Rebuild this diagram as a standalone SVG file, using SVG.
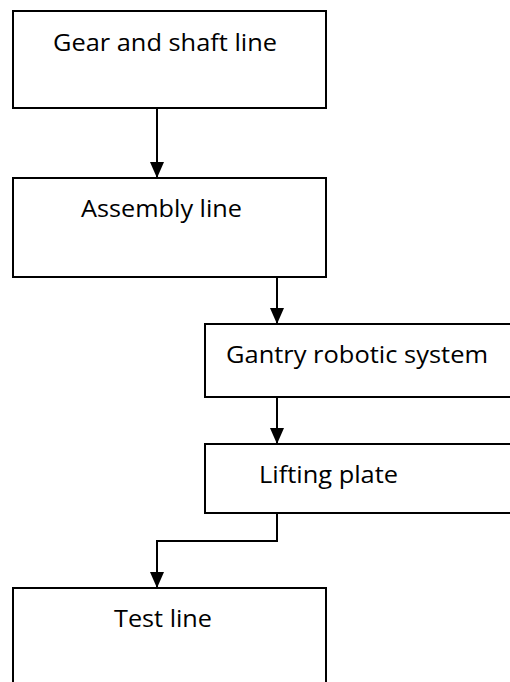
<svg xmlns="http://www.w3.org/2000/svg" width="510" height="682" viewBox="0 0 510 682">
<defs>
<style>
.box{fill:#fff;stroke:#000;stroke-width:2}
.lbl{font-family:"Open Sans","Noto Sans","Liberation Sans",sans-serif;font-size:24px;fill:#000}
.con{fill:none;stroke:#000;stroke-width:2}
</style>
<marker id="arr" markerWidth="16" markerHeight="14" refX="16" refY="7" orient="auto" markerUnits="userSpaceOnUse" viewBox="0 0 16 14">
<path d="M0,0 L16,7 L0,14 Z" fill="#000"/>
</marker>
</defs>
<rect width="510" height="682" fill="#fff"/>
<g id="n1">
<rect class="box" x="13" y="11" width="313" height="97"/>
<text class="lbl" x="53" y="51" textLength="224" lengthAdjust="spacingAndGlyphs">Gear and shaft line</text>
</g>
<g id="n2">
<rect class="box" x="13" y="178" width="313" height="99"/>
<text class="lbl" x="81" y="217" textLength="161" lengthAdjust="spacingAndGlyphs">Assembly line</text>
</g>
<g id="n3">
<rect class="box" x="205" y="324" width="320" height="73"/>
<text class="lbl" x="226" y="363" textLength="262" lengthAdjust="spacingAndGlyphs">Gantry robotic system</text>
</g>
<g id="n4">
<rect class="box" x="205" y="444" width="320" height="69"/>
<text class="lbl" x="259" y="483" textLength="139" lengthAdjust="spacingAndGlyphs">Lifting plate</text>
</g>
<g id="n5">
<rect class="box" x="13" y="588" width="313" height="110"/>
<text class="lbl" x="114" y="627" textLength="98" lengthAdjust="spacingAndGlyphs">Test line</text>
</g>
<g id="connectors">
<path class="con" d="M157,108 V178" marker-end="url(#arr)"/>
<path class="con" d="M277,277 V324" marker-end="url(#arr)"/>
<path class="con" d="M277,397 V444" marker-end="url(#arr)"/>
<path class="con" d="M277,513 V541 H157 V588" marker-end="url(#arr)"/>
</g>
</svg>
